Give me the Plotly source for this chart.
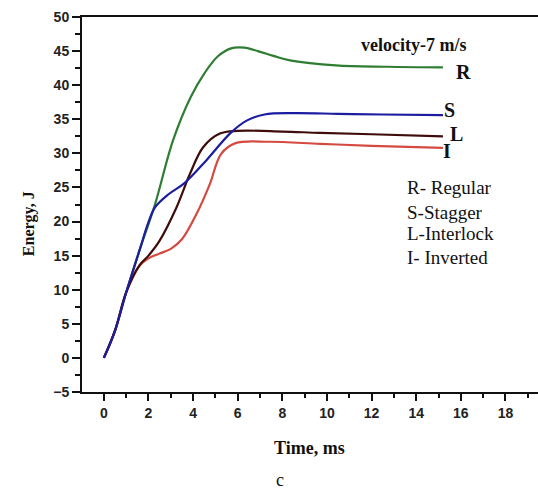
import plotly.graph_objects as go

# ---- data ----
r_x = [0, 0.5, 1.0, 1.6, 2.3, 3.1, 3.9, 4.5, 5.1, 5.7, 6.3, 6.9, 7.6, 8.4, 10.4, 12.7, 15.2]
r_y = [0, 4.0, 9.6, 15.8, 22.6, 31.9, 38.3, 41.7, 44.2, 45.4, 45.5, 45.0, 44.3, 43.6, 42.9, 42.7, 42.6]

s_x = [0, 0.5, 1.0, 1.6, 2.0, 2.3, 2.9, 3.6, 4.6, 5.65, 6.4, 7.2, 8.5, 10.5, 12.5, 15.2]
s_y = [0, 4.0, 9.6, 15.8, 19.9, 22.1, 24.0, 25.6, 29.0, 32.9, 34.8, 35.7, 35.9, 35.8, 35.7, 35.6]

l_x = [0, 0.5, 1.0, 1.6, 2.0, 2.5, 3.26, 3.86, 4.45, 5.2, 6.0, 8.0, 9.7, 12.0, 15.2]
l_y = [0, 4.0, 9.6, 13.6, 15.0, 17.2, 22.1, 27.0, 30.9, 32.9, 33.3, 33.2, 33.0, 32.8, 32.5]

i_x = [0, 0.5, 1.0, 1.6, 2.0, 2.5, 3.0, 3.5, 4.15, 4.75, 5.25, 5.9, 7.4, 9.7, 12.0, 15.2]
i_y = [0, 4.0, 9.6, 13.5, 14.6, 15.3, 16.0, 17.4, 21.1, 25.5, 29.9, 31.5, 31.7, 31.4, 31.1, 30.8]

x_ticks = [0, 2, 4, 6, 8, 10, 12, 14, 16, 18]
y_ticks = [-5, 0, 5, 10, 15, 20, 25, 30, 35, 40, 45, 50]

series = [
    ("R", r_x, r_y, "#2f7d32"),
    ("I", i_x, i_y, "#d44a40"),
    ("L", l_x, l_y, "#3f0c0c"),
    ("S", s_x, s_y, "#1c1ca0"),
]

fig = go.Figure()
for name, xs, ys, col in series:
    fig.add_trace(go.Scatter(x=xs, y=ys, mode="lines", name=name,
                             line=dict(color=col, width=2.2, shape="spline", smoothing=1.0),
                             showlegend=False))

serif = "Liberation Serif, Times New Roman, serif"
tickfont = dict(family="Liberation Sans, Arial, sans-serif", size=14, color="#222", weight="bold")

fig.update_layout(
    width=538, height=498,
    margin=dict(l=82, r=0, t=17, b=106),
    paper_bgcolor="white", plot_bgcolor="white",
    xaxis=dict(range=[-0.98, 19.46], tickvals=x_ticks, ticks="outside", ticklen=7, tickwidth=2,
               tickcolor="#111", showline=True, linecolor="#111", linewidth=2, mirror=True,
               showgrid=False, zeroline=False, tickfont=tickfont,
               minor=dict(dtick=1, tick0=0, ticks="outside", ticklen=4, tickwidth=2, tickcolor="#111", showgrid=False)),
    yaxis=dict(range=[-5, 50], tickvals=y_ticks, ticks="outside", ticklen=8, tickwidth=2,
               tickcolor="#111", showline=True, linecolor="#111", linewidth=2,
               showgrid=False, zeroline=False, tickfont=tickfont,
               minor=dict(dtick=2.5, tick0=0, ticks="outside", ticklen=5, tickwidth=2, tickcolor="#111", showgrid=False)),
)

ann = []
# outer titles
ann.append(dict(text="<b>Energy, J</b>", xref="paper", yref="paper", x=-0.140, y=0.448,
                textangle=-90, showarrow=False, font=dict(family=serif, size=16, color="#111")))
ann.append(dict(text="<b>Time, ms</b>", xref="paper", yref="paper", x=0.498, y=-0.181,
                showarrow=False, font=dict(family=serif, size=18, color="#111")))
ann.append(dict(text="c", xref="paper", yref="paper", x=0.434, y=-0.267,
                showarrow=False, font=dict(family=serif, size=18, color="#111")))
# in-plot labels
ann.append(dict(text="<b>velocity-7 m/s</b>", x=13.86, y=45.9, showarrow=False,
                font=dict(family=serif, size=18, color="#111")))
for t, xx, yy in [("R", 16.14, 42.0), ("S", 15.5, 36.3), ("L", 15.8, 32.8), ("I", 15.4, 30.3)]:
    ann.append(dict(text=f"<b>{t}</b>", x=xx, y=yy, showarrow=False,
                    font=dict(family=serif, size=20, color="#111")))
for t, yy in [("R- Regular", 24.95), ("S-Stagger", 21.3), ("L-Interlock", 18.2), ("I- Inverted", 14.7)]:
    ann.append(dict(text=t, x=13.5, y=yy, xanchor="left", showarrow=False,
                    font=dict(family=serif, size=19, color="#111")))
fig.update_layout(annotations=ann)

fig.write_html("out.html")
